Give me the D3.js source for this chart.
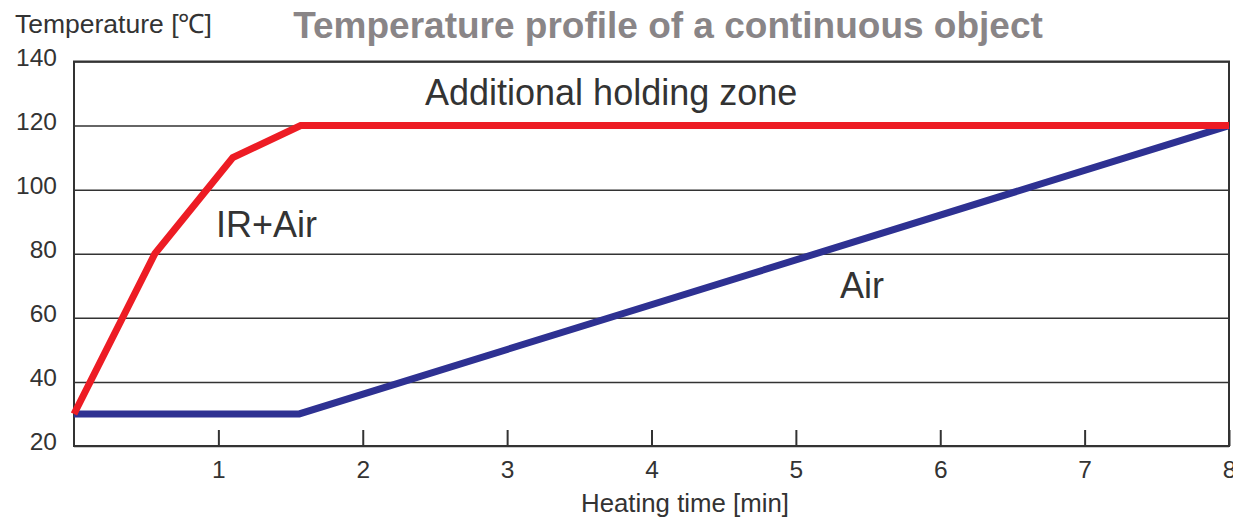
<!DOCTYPE html>
<html>
<head>
<meta charset="utf-8">
<script src="https://cdn.jsdelivr.net/npm/d3@7"></script>
<style>
  body { margin: 0; background: #fff; }
  svg { display: block; font-family: "Liberation Sans", Arial, sans-serif; }
</style>
</head>
<body>
<svg id="chart"></svg>
<script>
const width = 1233, height = 518;
const margin = {top: 61.5, right: 4, bottom: 72, left: 74};

// data
const irAirTime = [0, 0.56, 1.1, 1.57, 8];
const irAirTemp = [30, 80, 110, 120, 120];
const airTime = [0, 1.56, 8];
const airTemp = [30, 30, 120];
const xTicks = [1, 2, 3, 4, 5, 6, 7, 8];
const yTicks = [20, 40, 60, 80, 100, 120, 140];

const textColor = "#333";
const lineColor = "#333";

const svg = d3.select("#chart")
    .attr("width", width)
    .attr("height", height);

const x = d3.scaleLinear().domain([0, 8]).range([margin.left, width - margin.right]);
const y = d3.scaleLinear().domain([20, 140]).range([height - margin.bottom, margin.top]);

// y axis with gridlines
const yAxis = svg.append("g")
    .attr("transform", `translate(${margin.left},0)`)
    .call(d3.axisLeft(y).tickValues(yTicks).tickSize(-(width - margin.left - margin.right)).tickPadding(17));
yAxis.select(".domain").remove();
yAxis.selectAll(".tick line").attr("stroke", lineColor).attr("stroke-width", 1.5);
yAxis.selectAll(".tick text")
    .attr("fill", textColor)
    .attr("font-size", 24.5)
    .attr("font-family", "Liberation Sans, Arial, sans-serif")
    .attr("dy", "0.15em");

// x axis, ticks pointing inward
const xAxis = svg.append("g")
    .attr("transform", `translate(0,${height - margin.bottom})`)
    .call(d3.axisBottom(x).tickValues(xTicks).tickSize(-16).tickPadding(15));
xAxis.select(".domain").remove();
xAxis.selectAll(".tick line").attr("stroke", lineColor).attr("stroke-width", 2);
xAxis.selectAll(".tick text")
    .attr("fill", textColor)
    .attr("font-size", 24.5)
    .attr("font-family", "Liberation Sans, Arial, sans-serif");

// frame
svg.append("rect")
    .attr("x", x(0))
    .attr("y", y(140))
    .attr("width", x(8) - x(0))
    .attr("height", y(20) - y(140))
    .attr("fill", "none")
    .attr("stroke", lineColor)
    .attr("stroke-width", 2);

const line = d3.line()
    .x(d => x(d[0]))
    .y(d => y(d[1]));

svg.append("path")
    .datum(d3.zip(airTime, airTemp))
    .attr("d", line)
    .attr("fill", "none")
    .attr("stroke", "#2e3192")
    .attr("stroke-width", 7)
    .attr("stroke-linejoin", "miter");

svg.append("path")
    .datum(d3.zip(irAirTime, irAirTemp))
    .attr("d", line)
    .attr("fill", "none")
    .attr("stroke", "#ed1c24")
    .attr("stroke-width", 7)
    .attr("stroke-linejoin", "miter");

// labels
svg.append("text")
    .attr("x", 15)
    .attr("y", 33)
    .attr("fill", textColor)
    .attr("font-size", 26.5)
    .text("Temperature [℃]");

svg.append("text")
    .attr("x", 668)
    .attr("y", 38)
    .attr("text-anchor", "middle")
    .attr("fill", "#898587")
    .attr("font-size", 37)
    .attr("font-weight", "bold")
    .text("Temperature profile of a continuous object");

svg.append("text")
    .attr("x", 685)
    .attr("y", 512)
    .attr("text-anchor", "middle")
    .attr("fill", textColor)
    .attr("font-size", 25.8)
    .text("Heating time [min]");

svg.append("text")
    .attr("x", 425)
    .attr("y", 105)
    .attr("fill", textColor)
    .attr("font-size", 36)
    .text("Additional holding zone");

svg.append("text")
    .attr("x", 216)
    .attr("y", 237)
    .attr("fill", textColor)
    .attr("font-size", 36)
    .text("IR+Air");

svg.append("text")
    .attr("x", 840)
    .attr("y", 298)
    .attr("fill", textColor)
    .attr("font-size", 36)
    .text("Air");
</script>
</body>
</html>
